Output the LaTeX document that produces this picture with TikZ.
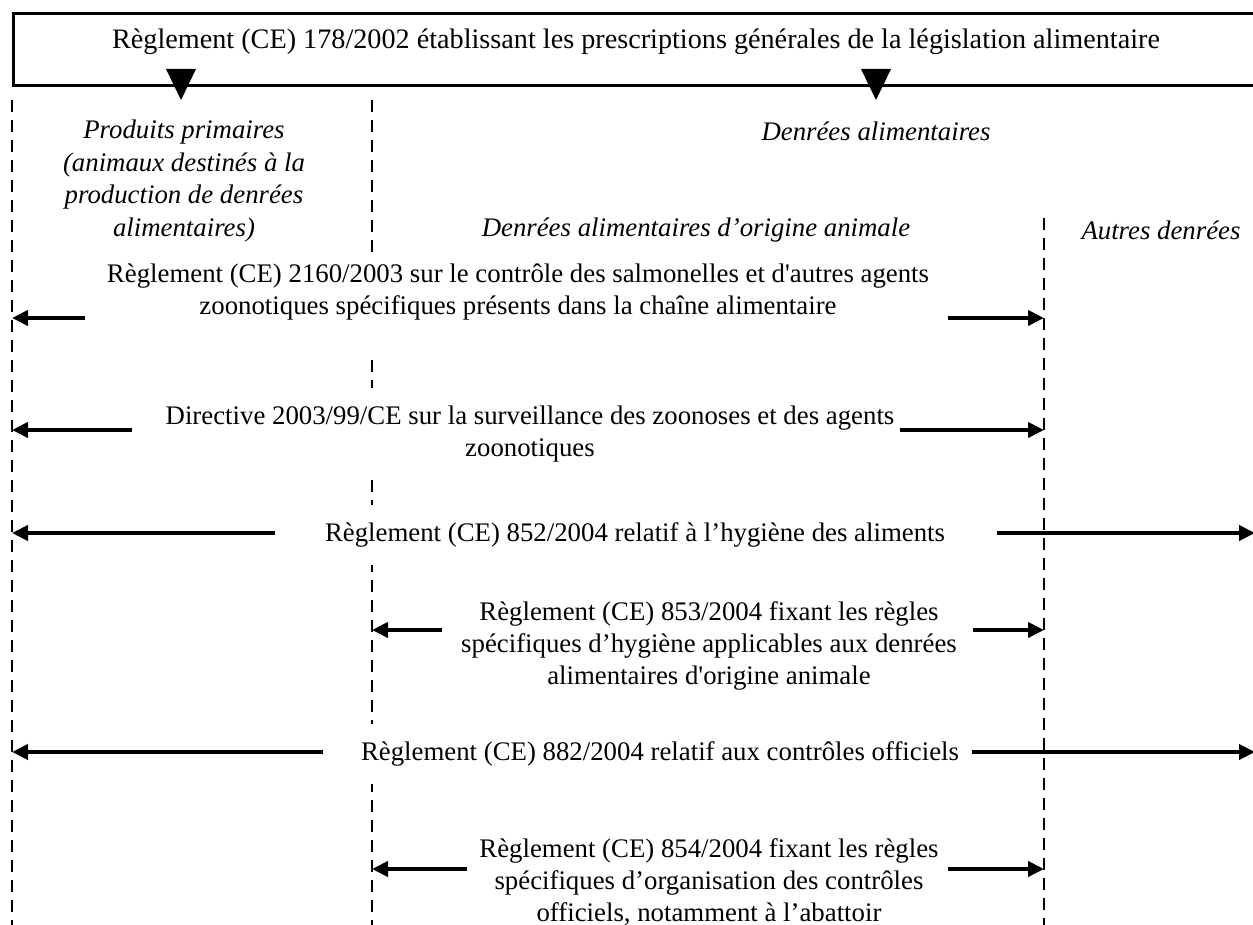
\documentclass[tikz,border=0pt]{standalone}
\usepackage{fontspec}
\setmainfont{Liberation Serif}
\usetikzlibrary{arrows.meta}
\begin{document}
\begin{tikzpicture}[x=0.5pt,y=-0.5pt,
  txt/.style={align=center, font=\fontsize{13.4}{16}\selectfont, inner sep=0pt},
  law/.style={txt, fill=white, inner xsep=3pt, inner ysep=9pt},
  cat/.style={txt, font=\fontsize{13.4}{16.3}\selectfont\itshape},
  sepline/.style={line width=1pt, dash pattern=on 6pt off 4pt},
  arr/.style={line width=2pt, -{Triangle[length=8pt,width=7.5pt]}},
  tri/.style={fill=black}
]
\useasboundingbox (0,0) rectangle (1253,925);
\fill[white] (0,0) rectangle (1253,925);

% top box
\node[draw, line width=1.5pt, anchor=north west, minimum width=640pt, minimum height=36pt, inner sep=0pt] (box) at (12,12) {};
\node[txt, font=\fontsize{14.1}{16}\selectfont] (title) at (636,42) {Règlement (CE) 178/2002 établissant les prescriptions générales de la législation alimentaire};
\fill[tri] (166,69) -- (196,69) -- (181,100) -- cycle;
\fill[tri] (861,69) -- (891,69) -- (876,100) -- cycle;

% column separators
\coordinate (cL) at (12,100);   \coordinate (cLb) at (12,925);
\coordinate (cM) at (372,100);  \coordinate (cMb) at (372,925);
\coordinate (cR) at (1044,218); \coordinate (cRb) at (1044,925);
\draw[sepline] (cL) -- (cLb);
\draw[sepline] (cM) -- (cMb);
\draw[sepline] (cR) -- (cRb);

% categories
\node[cat] (prim) at (184,181) {Produits primaires\\(animaux destinés à la\\production de denrées\\alimentaires)};
\node[cat] (denr) at (876,131) {Denrées alimentaires};
\node[cat] (daoa) at (696,230) {Denrées alimentaires d’origine animale};
\node[cat] (autr) at (1161,230) {Autres denrées};

% regulations
\node[law, inner ysep=3pt] (r2160) at (518,309) {Règlement (CE) 2160/2003 sur le contrôle des salmonelles et d\textquotesingle autres agents\\zoonotiques spécifiques présents dans la chaîne alimentaire\rule[-20pt]{0pt}{0pt}};
\node[law] (d2003) at (530,434) {Directive 2003/99/CE sur la surveillance des zoonoses et des agents\\zoonotiques};
\node[law] (r852) at (635,535) {Règlement (CE) 852/2004 relatif à l’hygiène des aliments};
\node[law] (r853) at (709,646) {Règlement (CE) 853/2004 fixant les règles\\spécifiques d’hygiène applicables aux denrées\\alimentaires d\textquotesingle origine animale};
\node[law] (r882) at (660,754) {Règlement (CE) 882/2004 relatif aux contrôles officiels};
\node[law] (r854) at (709,882) {Règlement (CE) 854/2004 fixant les règles\\spécifiques d’organisation des contrôles\\officiels, notamment à l’abattoir};

% arrows
\draw[arr] (85,318) -- (cL |- 0,318);
\draw[arr] (948,318) -- (cR |- 0,318);
\draw[arr] (132,430) -- (cL |- 0,430);
\draw[arr] (900,430) -- (cR |- 0,430);
\draw[arr] (275,533) -- (cL |- 0,533);
\draw[arr] (997,533) -- (1255,533);
\draw[arr] (442,630) -- (cM |- 0,630);
\draw[arr] (973,630) -- (cR |- 0,630);
\draw[arr] (323,752) -- (cL |- 0,752);
\draw[arr] (972,752) -- (1255,752);
\draw[arr] (467,869) -- (cM |- 0,869);
\draw[arr] (948,869) -- (cR |- 0,869);
\end{tikzpicture}
\end{document}
